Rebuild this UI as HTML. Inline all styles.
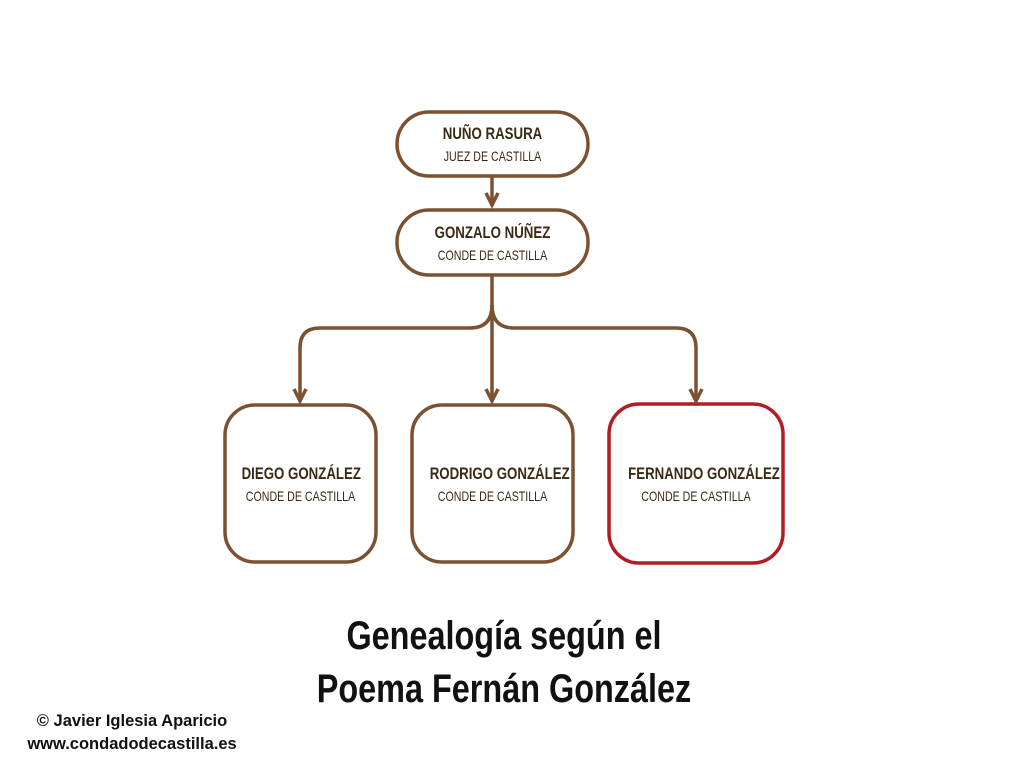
<!DOCTYPE html>
<html><head><meta charset="utf-8"><style>
body{margin:0;background:#fff;width:1024px;height:768px;overflow:hidden;position:relative;font-family:"Liberation Sans",sans-serif}
.t{position:absolute;text-align:center;color:#3a2a14;white-space:nowrap;transform-origin:center}
.n{font-weight:bold;font-size:17px;transform:scaleX(0.78)}
.s{font-size:14px;color:#3a2a14;transform:scaleX(0.76)}
</style></head><body>
<svg width="1024" height="768" style="position:absolute;left:0;top:0">
<g fill="none" stroke="#7a5232" stroke-width="3.5">
<rect x="397" y="112" width="191" height="64" rx="32" fill="#fff"/>
<rect x="397" y="210" width="191" height="65" rx="32" fill="#fff"/>
<line x1="492" y1="176" x2="492" y2="206"/>
<line x1="492" y1="275" x2="492" y2="400"/>
<path d="M492,305 Q492,328 470,328 L320,328 Q300,328 300,348 L300,400"/>
<path d="M492,305 Q492,328 514,328 L676,328 Q696,328 696,348 L696,400"/>
<path d="M486,193 L492,205 L498,193"/>
<path d="M294,389 L300,401 L306,389"/>
<path d="M486,389 L492,401 L498,389"/>
<path d="M690,389 L696,401 L702,389"/>
<rect x="225" y="405" width="151" height="157" rx="30" fill="#fff"/>
<rect x="412" y="405" width="161" height="157" rx="30" fill="#fff"/>
<rect x="609" y="404" width="174" height="159" rx="30" fill="#fff" stroke="#b01e24"/>
</g>
</svg>
<div class="t n" style="left:397px;width:191px;top:124px">NUÑO RASURA</div>
<div class="t s" style="left:397px;width:191px;top:148px">JUEZ DE CASTILLA</div>
<div class="t n" style="left:397px;width:191px;top:223px">GONZALO NÚÑEZ</div>
<div class="t s" style="left:397px;width:191px;top:247px">CONDE DE CASTILLA</div>
<div class="t n" style="left:225px;width:151px;top:464px">DIEGO GONZÁLEZ</div>
<div class="t s" style="left:225px;width:151px;top:488px">CONDE DE CASTILLA</div>
<div class="t n" style="left:412px;width:161px;top:464px">RODRIGO GONZÁLEZ</div>
<div class="t s" style="left:412px;width:161px;top:488px">CONDE DE CASTILLA</div>
<div class="t n" style="left:609px;width:174px;top:464px">FERNANDO GONZÁLEZ</div>
<div class="t s" style="left:609px;width:174px;top:488px">CONDE DE CASTILLA</div>
<div class="t" style="left:254px;width:500px;top:610px;font-size:40px;font-weight:bold;color:#111;line-height:53px;transform:scaleX(0.81)">Genealogía según el<br>Poema Fernán González</div>
<div style="position:absolute;left:27px;width:210px;top:710px;font-weight:bold;font-size:16.5px;line-height:23px;color:#111;text-align:center;white-space:nowrap">© Javier Iglesia Aparicio<br>www.condadodecastilla.es</div>
</body></html>
